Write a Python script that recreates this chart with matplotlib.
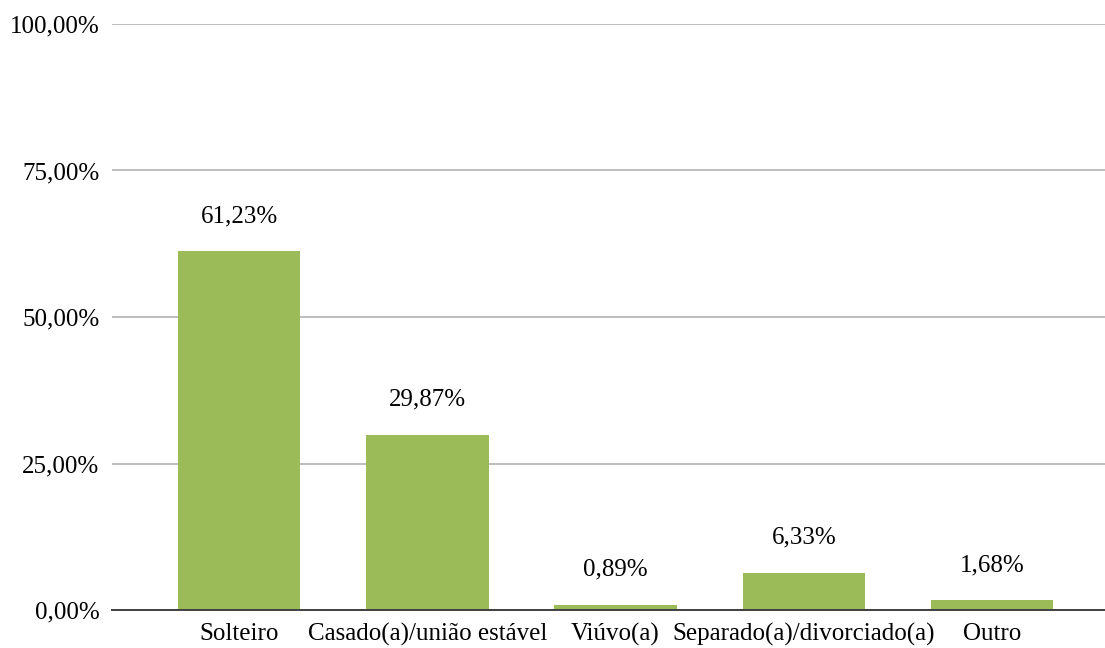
import matplotlib
matplotlib.use('Agg')
import matplotlib.pyplot as plt
import numpy as np

categorias = ['Solteiro', 'Casado(a)/união estável', 'Viúvo(a)',
              'Separado(a)/divorciado(a)', 'Outro']
valores = [61.23, 29.87, 0.89, 6.33, 1.68]
yticks = [0, 25, 50, 75, 100]

plt.rcParams['font.family'] = ['Liberation Serif', 'DejaVu Serif']
plt.rcParams['font.size'] = 18

fig = plt.figure(figsize=(11.05, 6.48), dpi=100)
ax = fig.add_axes([0.1014, 0.0586, 0.8986, 0.9044])

x = np.arange(len(categorias))
bars = ax.bar(x, valores, width=0.65, color='#9bbb59', zorder=2)

for xi, v in zip(x, valores):
    ax.annotate(f'{v:.2f}%'.replace('.', ','), xy=(xi, v), xytext=(0, 21),
                textcoords='offset points', ha='center', va='baseline',
                fontsize=18)

ax.set_xlim(-0.675, 4.6)
ax.set_ylim(0, 100)
ax.set_yticks(yticks)
ax.set_yticklabels([f'{t:.2f}%'.replace('.', ',') for t in yticks])
ax.set_xticks(x)
ax.set_xticklabels(categorias)
ax.tick_params(axis='both', length=0)
ax.tick_params(axis='y', pad=9)
ax.tick_params(axis='x', pad=9)

ax.grid(axis='y', color='#b7b7b7', linewidth=1.3, zorder=0)
for s in ['top', 'right', 'left']:
    ax.spines[s].set_visible(False)
ax.spines['bottom'].set_color('#404040')
ax.spines['bottom'].set_linewidth(1.4)
ax.spines['bottom'].set_zorder(3)

fig.savefig('out.png', dpi=100)
